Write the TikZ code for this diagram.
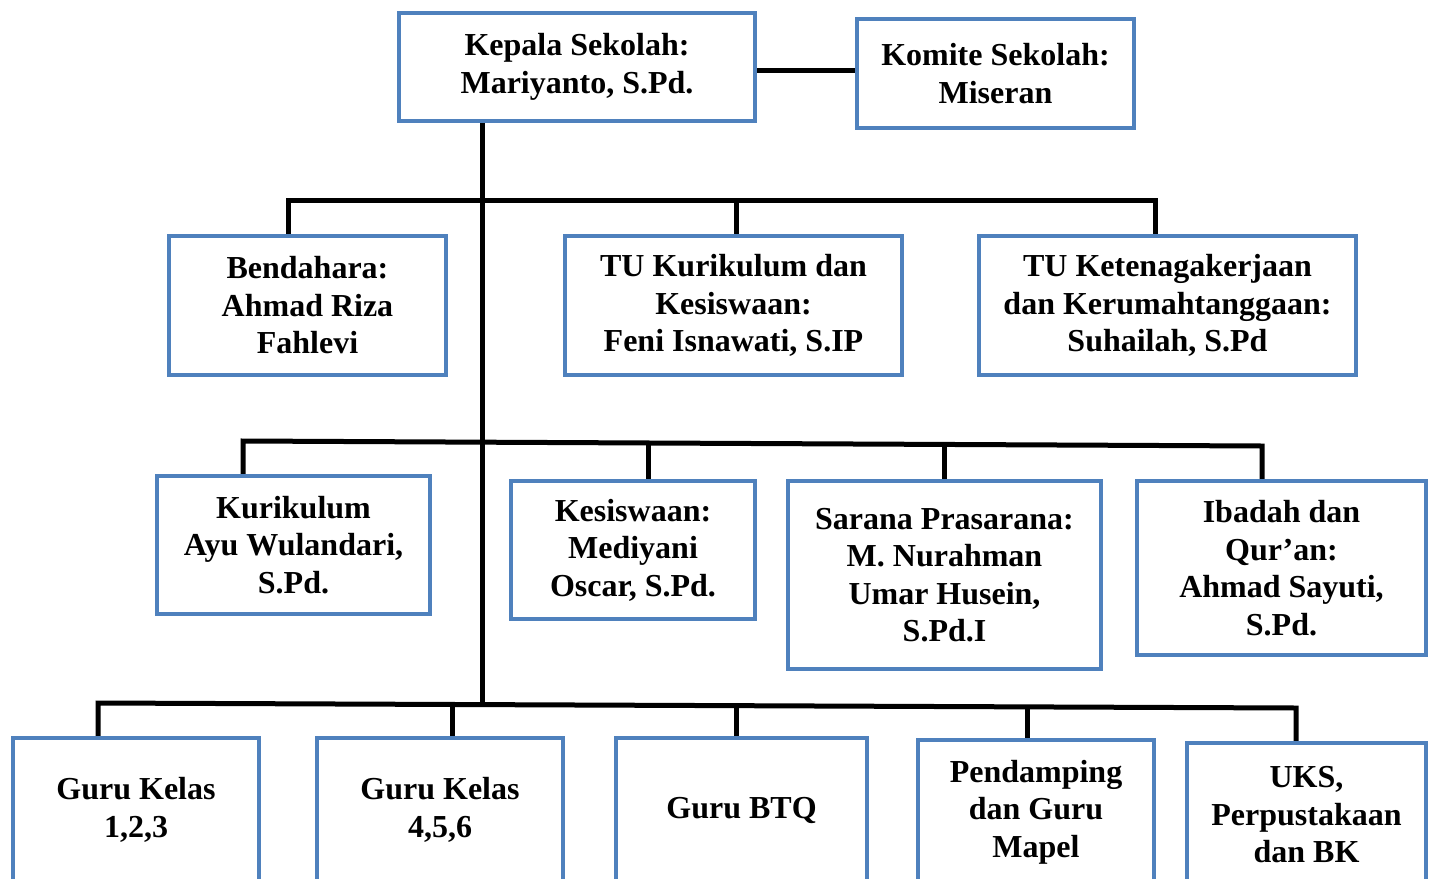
\documentclass[tikz,border=0pt]{standalone}
\usepackage{fontspec}
\setmainfont{Liberation Serif}
\usepackage{tikz}
\usetikzlibrary{positioning,calc}

\definecolor{boxblue}{RGB}{79,129,189}

\begin{document}
\begin{tikzpicture}[
    x=1pt, y=-1pt,
    unit/.style={rectangle, draw=boxblue, line width=4.5pt, fill=white, align=center, inner sep=0pt,
        font=\bfseries\fontsize{32}{37.5}\selectfont},
    link/.style={line width=5pt, black}
]
\clip (0,0) rectangle (1434,878);

% Level 0: Head and committee
\node[unit, minimum width=356, minimum height=108] (kepala) at (577,67) {Kepala Sekolah:\\Mariyanto, S.Pd.};
\node[unit, minimum width=277, minimum height=109] (komite) at (995.5,73.5) {Komite Sekolah:\\Miseran};

% Level 1: Treasurer and administration
\node[unit, minimum width=277, minimum height=139] (bendahara) at (307.5,305.5) {Bendahara:\\Ahmad Riza\\Fahlevi};
\node[unit, minimum width=337, minimum height=139] (tukur) at (733.5,305.5) {TU Kurikulum dan\\Kesiswaan:\\Feni Isnawati, S.IP};
\node[unit, minimum width=377, minimum height=139] (tuket) at (1167.5,305.5) {TU Ketenagakerjaan\\dan Kerumahtanggaan:\\Suhailah, S.Pd};

% Level 2: Vice heads
\node[unit, minimum width=273, minimum height=138] (kurikulum) at (293.5,545) {Kurikulum\\Ayu Wulandari,\\S.Pd.};
\node[unit, minimum width=244, minimum height=138] (kesiswaan) at (633,550) {Kesiswaan:\\Mediyani\\Oscar, S.Pd.};
\node[unit, minimum width=313, minimum height=188] (sarana) at (944.5,575) {Sarana Prasarana:\\M. Nurahman\\Umar Husein,\\S.Pd.I};
\node[unit, minimum width=289, minimum height=174] (ibadah) at (1281.5,568) {Ibadah dan\\Qur’an:\\Ahmad Sayuti,\\S.Pd.};

% Level 3: Teachers
\node[unit, minimum width=246, minimum height=144] (guru1) at (136,810) {Guru Kelas\\1,2,3};
\node[unit, minimum width=246, minimum height=144] (guru2) at (440,810) {Guru Kelas\\4,5,6};
\node[unit, minimum width=251, minimum height=144] (btq) at (741.5,810) {Guru BTQ};
\node[unit, minimum width=236, minimum height=144] (mapel) at (1036,812) {Pendamping\\dan Guru\\Mapel};
\node[unit, minimum width=239, minimum height=144] (uks) at (1306.5,815) {UKS,\\Perpustakaan\\dan BK};

% Bus coordinates
\coordinate (trunk) at (482,706);
\coordinate (r1l) at (288,200);
\coordinate (r1m) at (736,200);
\coordinate (r1r) at (1155,200);
\coordinate (r2l) at (243,441);
\coordinate (r2r) at (1262,446);
\coordinate (r2a) at ($(r2l)!0.398!(r2r)$);
\coordinate (r2b) at ($(r2l)!0.688!(r2r)$);
\coordinate (r3l) at (98,703);
\coordinate (r3r) at (1296,708);
\coordinate (r3a) at ($(r3l)!0.2955!(r3r)$);
\coordinate (r3b) at ($(r3l)!0.5326!(r3r)$);
\coordinate (r3c) at ($(r3l)!0.7755!(r3r)$);

% Edges - head
\draw[link] ([yshift=-3pt]kepala.east) -- ([yshift=-3pt]kepala.east -| komite.west);
\draw[link] (kepala.south -| trunk) -- (trunk);

% Edges - level 1
\draw[link] (r1l |- bendahara.north) -- (r1l) -- (r1r) -- (r1r |- tuket.north);
\draw[link] (r1m) -- (r1m |- tukur.north);

% Edges - level 2
\draw[link] (r2l |- kurikulum.north) -- (r2l) -- (r2r) -- (r2r |- ibadah.north);
\draw[link] (r2a) -- (r2a |- kesiswaan.north);
\draw[link] (r2b) -- (r2b |- sarana.north);

% Edges - level 3
\draw[link] (r3l |- guru1.north) -- (r3l) -- (r3r) -- (r3r |- uks.north);
\draw[link] (r3a) -- (r3a |- guru2.north);
\draw[link] (r3b) -- (r3b |- btq.north);
\draw[link] (r3c) -- (r3c |- mapel.north);

\end{tikzpicture}
\end{document}
